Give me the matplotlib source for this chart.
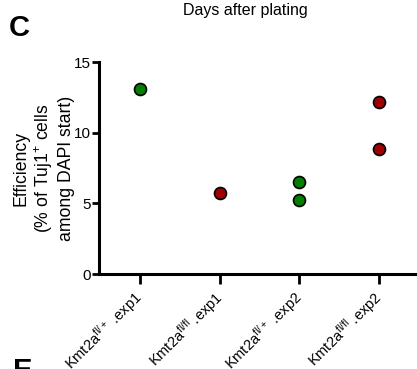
#!/usr/bin/env python3
"""Neuronal conversion efficiency per genotype / experiment (panel C)."""
import matplotlib
matplotlib.use("Agg")
import matplotlib.pyplot as plt

plt.rcParams["font.family"] = ["Liberation Sans", "DejaVu Sans"]
plt.rcParams["mathtext.default"] = "regular"

categories = [
    r"Kmt2a$^{fl/+}$ .exp1",
    r"Kmt2a$^{fl/fl}$ .exp1",
    r"Kmt2a$^{fl/+}$ .exp2",
    r"Kmt2a$^{fl/fl}$ .exp2",
]
# one list of replicate values per category
values = [
    [13.1],
    [5.73],
    [6.53, 5.21],
    [12.19, 8.82],
]
point_colors = ["#008000", "#a00000", "#008000", "#a00000"]
yticks = [0, 5, 10, 15]

W, H = 417, 369
fig = plt.figure(figsize=(W / 100, H / 100), dpi=100)
ax = fig.add_axes([99 / W, 1 - 274 / H, 318 / W, 212 / H])

for i, (vals, col) in enumerate(zip(values, point_colors)):
    ax.plot([i] * len(vals), vals, "o", ms=8.6, mfc=col, mec="black",
            mew=1.2, clip_on=False, zorder=3)

ax.set_xlim(-0.515, 3.477)
ax.set_ylim(0, 15)
ax.set_yticks(yticks)
ax.set_xticks(range(len(categories)))
ax.set_xticklabels(categories, rotation=45, ha="right", va="center",
                   rotation_mode="anchor", fontsize=10.5)
ax.tick_params(axis="y", labelsize=11, width=2, length=5, pad=1)
ax.tick_params(axis="x", width=2, length=7, pad=8)
for side in ("top", "right"):
    ax.spines[side].set_visible(False)
for side in ("left", "bottom"):
    ax.spines[side].set_linewidth(2.2)

ax.set_ylabel("Efficiency\n(% of Tuj1$^{+}$ cells\namong DAPI start)",
              fontsize=12.7, linespacing=1.2, labelpad=-1)

fig.text(245 / W, 1 - 15 / H, "Days after plating", ha="center", va="baseline",
         fontsize=11.5)
fig.text(9 / W, 1 - 36 / H, "C", fontsize=21, fontweight="bold", va="baseline")
fig.text(13 / W, 1 - 379 / H, "E", fontsize=21, fontweight="bold", va="baseline")

fig.savefig("out.png", dpi=100)
